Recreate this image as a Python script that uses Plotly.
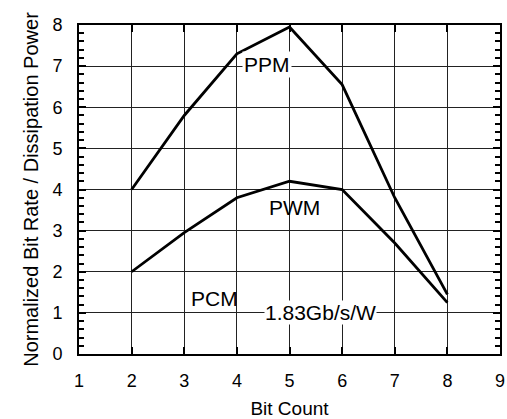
import plotly.graph_objects as go

bit_count = [2, 3, 4, 5, 6, 7, 8]
ppm = [4.0, 5.8, 7.3, 7.95, 6.55, 3.8, 1.45]
pwm = [2.0, 2.95, 3.8, 4.2, 4.0, 2.7, 1.25]
pcm_ref = 1.0

x_ticks = [1, 2, 3, 4, 5, 6, 7, 8, 9]
y_ticks = [0, 1, 2, 3, 4, 5, 6, 7, 8]

FONT = "Liberation Sans, Arial, sans-serif"

fig = go.Figure()
fig.add_trace(go.Scatter(x=bit_count, y=ppm, mode="lines",
                         line=dict(color="black", width=2.8), name="PPM"))
fig.add_trace(go.Scatter(x=bit_count, y=pwm, mode="lines",
                         line=dict(color="black", width=2.8), name="PWM"))

ann_font = dict(family=FONT, size=21, color="black")
fig.add_annotation(x=4.58, y=7.05, text="PPM", showarrow=False, font=ann_font,
                   bgcolor="white", borderpad=1)
fig.add_annotation(x=5.09, y=3.57, text="PWM", showarrow=False, font=ann_font)
fig.add_annotation(x=3.58, y=1.36, text="PCM", showarrow=False, font=ann_font)
fig.add_annotation(x=5.59, y=pcm_ref, text="1.83Gb/s/W", showarrow=False,
                   font=ann_font, bgcolor="white", borderpad=0)

fig.update_layout(
    width=507, height=419,
    margin=dict(l=79, r=7, t=25, b=65),
    paper_bgcolor="white", plot_bgcolor="white",
    showlegend=False,
    font=dict(family=FONT, size=18, color="black"),
)
fig.update_xaxes(
    range=[x_ticks[0], x_ticks[-1]], tickmode="linear", tick0=x_ticks[0], dtick=1,
    showgrid=True, gridcolor="#222222", gridwidth=1.2,
    showline=True, linecolor="black", linewidth=2, mirror="allticks",
    ticks="inside", ticklen=7, tickwidth=2, tickcolor="black",
    ticklabelstandoff=9, ticklabeloverflow="allow",
    title=dict(text="Bit Count", font=dict(size=19), standoff=12),
    zeroline=False, automargin=False,
)
fig.update_yaxes(
    range=[0, 8], tickvals=y_ticks, ticktext=[str(v) for v in y_ticks],
    showgrid=True, gridcolor="#222222", gridwidth=1.2,
    showline=True, linecolor="black", linewidth=2, mirror="allticks",
    ticks="inside", ticklen=7, tickwidth=1.5, tickcolor="black",
    minor=dict(dtick=0.2, ticks="inside", ticklen=5, tickwidth=1.5,
               tickcolor="black", showgrid=False),
    ticklabelstandoff=11,
    title=dict(text="Normalized Bit Rate / Dissipation Power",
               font=dict(size=20), standoff=8),
    zeroline=False, automargin=False,
)

fig.write_html(
    "out.html",
    config={"displayModeBar": False},
    post_script="document.body.style.margin='0';document.body.style.overflow='hidden';",
)
